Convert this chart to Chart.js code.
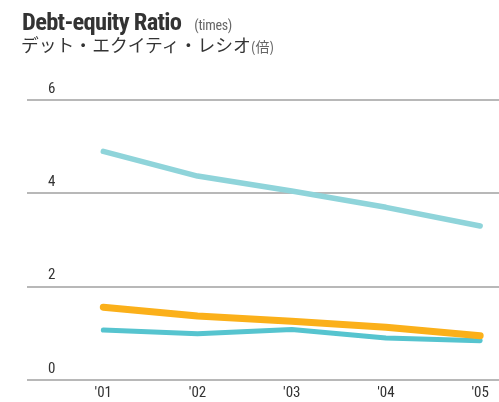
<!DOCTYPE html>
<html>
<head>
<meta charset="utf-8">
<script src="https://cdn.jsdelivr.net/npm/chart.js@4/dist/chart.umd.min.js"></script>
<style>
html,body{margin:0;padding:0;background:#fff;width:499px;height:402px;overflow:hidden;}
#wrap{position:absolute;left:0;top:0;width:499px;height:410px;}
canvas{display:block;}
.t1{position:absolute;left:22px;top:7px;font-family:"Liberation Sans Narrow","Roboto Condensed","Arial Narrow",sans-serif;font-weight:bold;font-size:24.5px;color:#333;white-space:nowrap;letter-spacing:-0.7px;}
.t1 small{font-weight:normal;font-size:14px;color:#666;margin-left:13px;letter-spacing:-0.3px;}
.t2{position:absolute;left:21px;top:31px;font-family:"Noto Sans CJK JP",sans-serif;font-size:17.8px;color:#333;white-space:nowrap;}
.t2 small{font-size:14px;color:#666;}
</style>
</head>
<body>
<div id="wrap"><canvas id="c" width="499" height="410"></canvas></div>
<div class="t1">Debt-equity Ratio<small>(times)</small></div>
<div class="t2">デット・エクイティ・レシオ<small>(倍)</small></div>
<script>
const categories = ["'01","'02","'03","'04","'05"];
const seriesLight = [4.90, 4.37, 4.05, 3.70, 3.30];
const seriesOrange = [1.56, 1.37, 1.26, 1.13, 0.95];
const seriesTeal = [1.07, 0.99, 1.08, 0.90, 0.84];
const yTicks = [0, 2, 4, 6];

const toPts = arr => arr.map((v, i) => ({x: i, y: v}));
const narrow = '"Liberation Sans Narrow","Roboto Condensed","Arial Narrow",sans-serif';

new Chart(document.getElementById('c'), {
  type: 'line',
  data: {
    datasets: [
      {data: toPts(seriesOrange), borderColor: '#fbb01a', borderWidth: 7},
      {data: toPts(seriesTeal), borderColor: '#56c4cf', borderWidth: 5},
      {data: toPts(seriesLight), borderColor: '#8fd4da', borderWidth: 5.5}
    ]
  },
  options: {
    responsive: false,
    animation: false,
    events: [],
    layout: {padding: {left: 27, right: 0, top: 100, bottom: 2}},
    elements: {
      point: {radius: 0},
      line: {tension: 0, borderCapStyle: 'round', borderJoinStyle: 'round', fill: false}
    },
    plugins: {legend: {display: false}, tooltip: {enabled: false}},
    scales: {
      x: {
        type: 'linear',
        min: -0.81,
        max: 4.2,
        afterBuildTicks: s => { s.ticks = categories.map((c, i) => ({value: i})); },
        grid: {display: false, drawTicks: false},
        border: {display: false},
        ticks: {
          autoSkip: false,
          maxRotation: 0,
          padding: 4,
          color: '#333',
          font: {family: narrow, size: 15},
          callback: v => categories[v]
        }
      },
      y: {
        min: 0,
        max: 6,
        afterBuildTicks: s => { s.ticks = yTicks.map(v => ({value: v})); },
        afterFit: s => { s.width = 0; },
        grid: {color: '#b8b8b8', lineWidth: 2, drawTicks: false},
        border: {display: false},
        ticks: {
          mirror: true,
          padding: 21,
          labelOffset: -11,
          color: '#333',
          font: {family: narrow, size: 15}
        }
      }
    }
  }
});
</script>
</body>
</html>
